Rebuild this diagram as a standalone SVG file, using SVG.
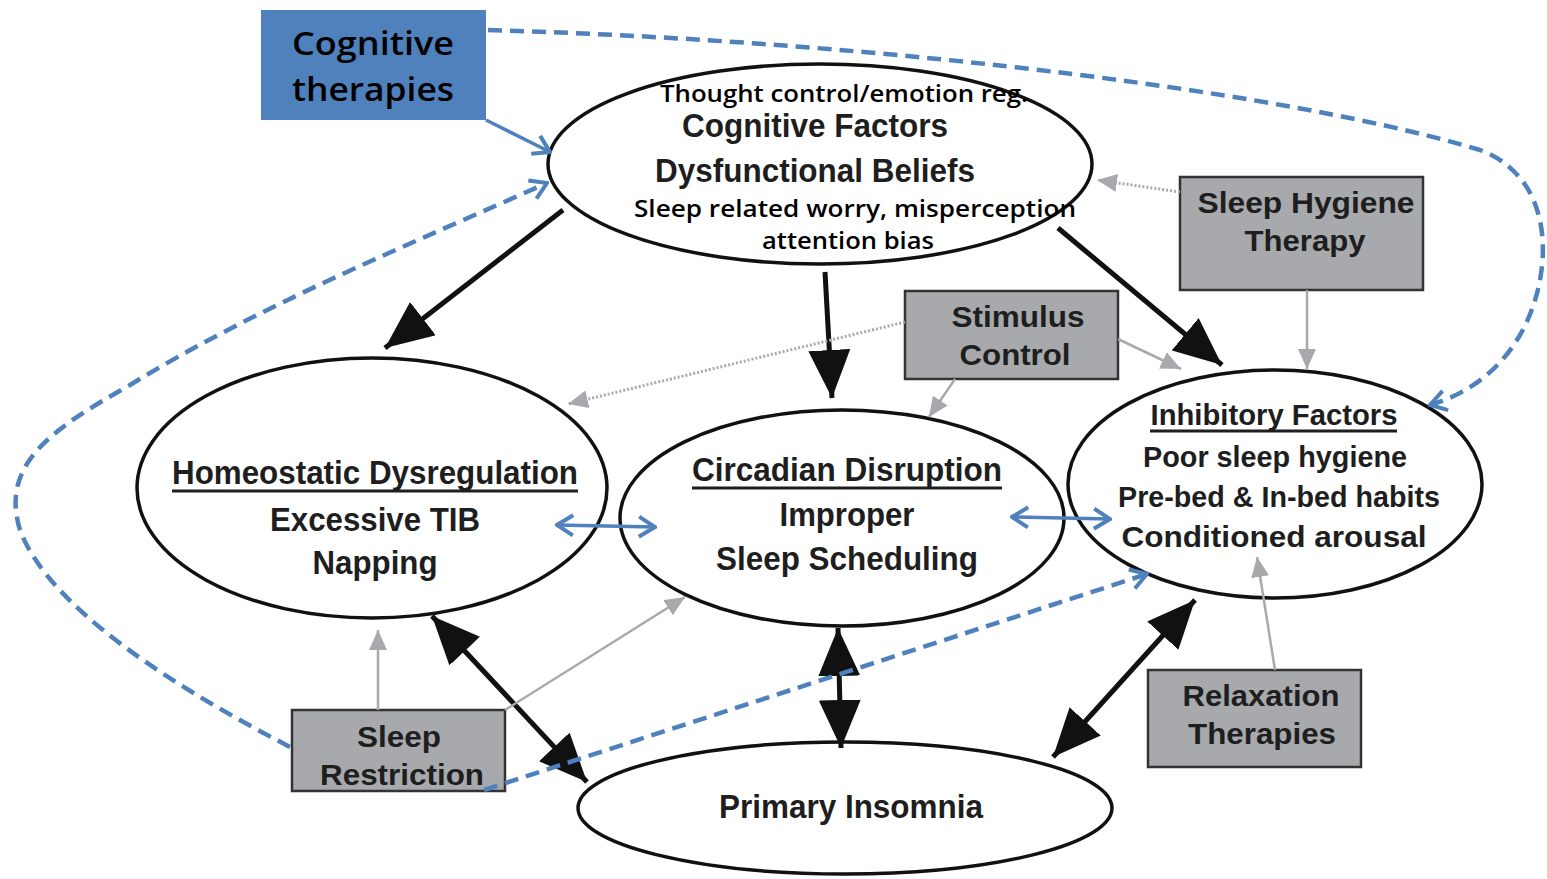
<svg xmlns="http://www.w3.org/2000/svg" width="1547" height="879" viewBox="0 0 1547 879">
<style>
.ell{fill:#fff;stroke:#111;stroke-width:3.5}
.box{fill:#a7a9ac;stroke:#333;stroke-width:2.5}
.fig{font-family:"Liberation Sans",Arial,sans-serif;font-weight:bold;fill:#1e1e1e;text-anchor:middle}
.ovl{font-family:"Open Sans","DejaVu Sans",sans-serif;font-weight:600;fill:#000;text-anchor:middle}
.ul{stroke:#1e1e1e;stroke-width:3}
.blk{stroke:#111;stroke-width:5;fill:none}
.gry{stroke:#a7a9ac;stroke-width:2.5;fill:none}
.dot{stroke:#a7a9ac;stroke-width:3;stroke-dasharray:2 2;fill:none}
.blu{stroke:#4f81bd;stroke-width:3.5;fill:none}
.dsh{stroke:#4f81bd;stroke-width:4.5;stroke-dasharray:14 8;fill:none}
</style>
<defs>
<marker id="bk" viewBox="0 0 48 42" refX="48" refY="21" markerWidth="48" markerHeight="42" markerUnits="userSpaceOnUse" orient="auto-start-reverse"><path d="M0,0 L48,21 L0,42 Z" fill="#111"/></marker>
<marker id="gr" viewBox="0 0 20 18" refX="20" refY="9" markerWidth="20" markerHeight="18" markerUnits="userSpaceOnUse" orient="auto-start-reverse"><path d="M0,0 L20,9 L0,18 Z" fill="#a7a9ac"/></marker>
<marker id="bl" viewBox="0 0 20 24" refX="18" refY="12" markerWidth="20" markerHeight="24" markerUnits="userSpaceOnUse" orient="auto-start-reverse"><path d="M2,2 L18,12 L2,22" fill="none" stroke="#4f81bd" stroke-width="4"/></marker>
</defs>

<g id="n-cognitive">
<ellipse class="ell" cx="820" cy="164" rx="272" ry="100"/>
<text class="fig" x="815" y="137" font-size="34" textLength="266" lengthAdjust="spacingAndGlyphs" fill="#333">Cognitive Factors</text>
<text class="fig" x="815" y="182" font-size="34" textLength="320" lengthAdjust="spacingAndGlyphs">Dysfunctional Beliefs</text>
<text class="ovl" x="844" y="102" font-size="23" textLength="368" lengthAdjust="spacingAndGlyphs">Thought control/emotion reg.</text>
<text class="ovl" x="855" y="217" font-size="23" textLength="442" lengthAdjust="spacingAndGlyphs">Sleep related worry, misperception</text>
<text class="ovl" x="848" y="249" font-size="23" textLength="172" lengthAdjust="spacingAndGlyphs">attention bias</text>
</g>

<g id="n-homeostatic">
<ellipse class="ell" cx="372" cy="488" rx="235" ry="130"/>
<text class="fig" x="375" y="484" font-size="33" textLength="406" lengthAdjust="spacingAndGlyphs">Homeostatic Dysregulation</text>
<line class="ul" x1="172" y1="491" x2="578" y2="491"/>
<text class="fig" x="375" y="531" font-size="33" textLength="210" lengthAdjust="spacingAndGlyphs">Excessive TIB</text>
<text class="fig" x="375" y="574" font-size="33" textLength="125" lengthAdjust="spacingAndGlyphs">Napping</text>
</g>

<g id="n-circadian">
<ellipse class="ell" cx="842" cy="518" rx="222" ry="108"/>
<text class="fig" x="847" y="481" font-size="33" textLength="310" lengthAdjust="spacingAndGlyphs">Circadian Disruption</text>
<line class="ul" x1="692" y1="488" x2="1002" y2="488"/>
<text class="fig" x="847" y="526" font-size="33" textLength="135" lengthAdjust="spacingAndGlyphs">Improper</text>
<text class="fig" x="847" y="570" font-size="33" textLength="262" lengthAdjust="spacingAndGlyphs">Sleep Scheduling</text>
</g>

<g id="n-inhibitory">
<ellipse class="ell" cx="1275" cy="484" rx="207" ry="114"/>
<text class="fig" x="1274" y="425" font-size="30" textLength="247" lengthAdjust="spacingAndGlyphs">Inhibitory Factors</text>
<line class="ul" x1="1150" y1="431" x2="1397" y2="431"/>
<text class="fig" x="1275" y="467" font-size="30" textLength="264" lengthAdjust="spacingAndGlyphs">Poor sleep hygiene</text>
<text class="fig" x="1279" y="507" font-size="30" textLength="322" lengthAdjust="spacingAndGlyphs">Pre-bed &amp; In-bed habits</text>
<text class="fig" x="1274" y="547" font-size="30" textLength="305" lengthAdjust="spacingAndGlyphs">Conditioned arousal</text>
</g>

<g id="n-primary">
<ellipse class="ell" cx="845" cy="808" rx="267" ry="66" stroke-width="5"/>
<text class="fig" x="851" y="818" font-size="34" textLength="264" lengthAdjust="spacingAndGlyphs">Primary Insomnia</text>
</g>

<g id="n-cogther">
<rect x="261" y="10" width="225" height="110" fill="#4f81bd"/>
<text class="ovl" x="373" y="55" font-size="33" textLength="162" lengthAdjust="spacingAndGlyphs">Cognitive</text>
<text class="ovl" x="373" y="101" font-size="33" textLength="162" lengthAdjust="spacingAndGlyphs">therapies</text>
</g>

<g id="n-hygiene">
<rect class="box" x="1180" y="177" width="243" height="113"/>
<text class="fig" x="1306" y="213" font-size="30" textLength="217" lengthAdjust="spacingAndGlyphs">Sleep Hygiene</text>
<text class="fig" x="1305" y="251" font-size="30" textLength="121" lengthAdjust="spacingAndGlyphs">Therapy</text>
</g>

<g id="n-stimulus">
<rect class="box" x="905" y="291" width="213" height="88"/>
<text class="fig" x="1018" y="327" font-size="30" textLength="133" lengthAdjust="spacingAndGlyphs">Stimulus</text>
<text class="fig" x="1015" y="365" font-size="30" textLength="111" lengthAdjust="spacingAndGlyphs">Control</text>
</g>

<g id="n-relax">
<rect class="box" x="1148" y="670" width="213" height="97"/>
<text class="fig" x="1261" y="706" font-size="30" textLength="157" lengthAdjust="spacingAndGlyphs">Relaxation</text>
<text class="fig" x="1262" y="744" font-size="30" textLength="148" lengthAdjust="spacingAndGlyphs">Therapies</text>
</g>

<g id="n-restriction">
<rect class="box" x="292" y="710" width="213" height="81"/>
<text class="fig" x="399" y="747" font-size="30" textLength="84" lengthAdjust="spacingAndGlyphs">Sleep</text>
<text class="fig" x="402" y="785" font-size="30" textLength="164" lengthAdjust="spacingAndGlyphs">Restriction</text>
</g>

<g id="connectors">
<line class="blk" x1="563" y1="210" x2="385" y2="348" marker-end="url(#bk)"/>
<line class="blk" x1="825" y1="272" x2="832" y2="398" marker-end="url(#bk)"/>
<line class="blk" x1="1058" y1="228" x2="1222" y2="365" marker-end="url(#bk)"/>
<line class="blk" x1="432" y1="616" x2="587" y2="782" marker-start="url(#bk)" marker-end="url(#bk)"/>
<line class="blk" x1="838" y1="628" x2="841" y2="748" marker-start="url(#bk)" marker-end="url(#bk)"/>
<line class="blk" x1="1195" y1="600" x2="1053" y2="757" marker-start="url(#bk)" marker-end="url(#bk)"/>

<line class="gry" x1="1307" y1="290" x2="1307" y2="369" marker-end="url(#gr)"/>
<line class="dot" x1="1180" y1="192" x2="1097" y2="180" marker-end="url(#gr)"/>
<line class="dot" x1="905" y1="322" x2="568" y2="404" marker-end="url(#gr)"/>
<line class="gry" x1="1118" y1="339" x2="1181" y2="369" marker-end="url(#gr)"/>
<line class="gry" x1="955" y1="379" x2="929" y2="417" marker-end="url(#gr)"/>
<line class="gry" x1="378" y1="710" x2="378" y2="630" marker-end="url(#gr)"/>
<line class="gry" x1="505" y1="710" x2="685" y2="597" marker-end="url(#gr)"/>
<line class="gry" x1="1275" y1="670" x2="1257" y2="557" marker-end="url(#gr)"/>

<line class="blu" x1="486" y1="120" x2="550" y2="152" marker-end="url(#bl)"/>
<line class="blu" x1="557" y1="525" x2="655" y2="527" marker-start="url(#bl)" marker-end="url(#bl)"/>
<line class="blu" x1="1012" y1="517" x2="1110" y2="519" marker-start="url(#bl)" marker-end="url(#bl)"/>

<path class="dsh" d="M488,30 C900,42 1300,95 1480,150 C1560,180 1552,280 1520,335 C1500,370 1468,394 1430,405" marker-end="url(#bl)"/>
<path class="dsh" d="M290,747 C180,690 50,610 20,530 C0,465 50,430 130,385 C260,305 420,240 547,183" marker-end="url(#bl)"/>
<path class="dsh" d="M484,790 L1147,574" marker-end="url(#bl)"/>
</g>
</svg>
